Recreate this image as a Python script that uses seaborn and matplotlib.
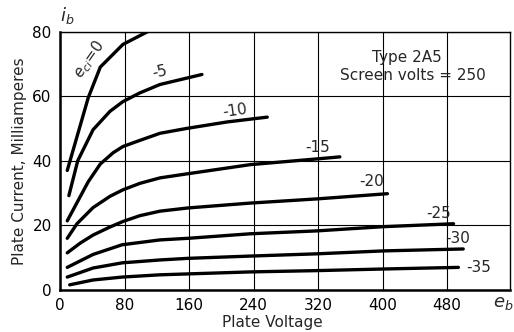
import matplotlib
matplotlib.use("Agg")
import matplotlib.pyplot as plt
import seaborn as sns
import pandas as pd

# grid bias (volts) for each curve
grid_bias = [0, -5, -10, -15, -20, -25, -30, -35]

# plate voltage (V) / plate current (mA)
v_0 = [9, 35, 50, 78, 109]
i_0 = [37, 59.5, 69, 76, 80]
v_5 = [11, 22, 41, 62, 78, 99, 124, 176]
i_5 = [29.2, 40, 49.6, 55.3, 58.3, 61, 63.6, 66.7]
v_10 = [9, 21, 35, 50, 66, 78, 99, 124, 157, 207, 257]
i_10 = [21.4, 27, 33.5, 39, 42.5, 44.4, 46.3, 48.5, 50, 52, 53.5]
v_15 = [9, 21, 41, 62, 78, 99, 124, 159, 236, 320, 347]
i_15 = [16, 20.5, 25.5, 29, 31, 33, 34.7, 36, 38.8, 40.6, 41.2]
v_20 = [9, 25, 41, 62, 78, 99, 124, 159, 236, 319, 406]
i_20 = [11.5, 14.5, 17, 19.5, 21.2, 23, 24.4, 25.4, 26.9, 28.2, 29.8]
v_25 = [9, 41, 77, 124, 159, 236, 319, 401, 488]
i_25 = [7, 11, 14, 15.5, 16, 17.4, 18.3, 19.6, 20.5]
v_30 = [9, 41, 77, 124, 159, 236, 319, 401, 500]
i_30 = [4, 6.8, 8.4, 9.3, 9.8, 10.5, 11.2, 12.1, 12.7]
v_35 = [12, 41, 77, 124, 236, 319, 401, 494]
i_35 = [1.6, 3.1, 4, 4.7, 5.6, 6, 6.5, 7]

curve_v = [v_0, v_5, v_10, v_15, v_20, v_25, v_30, v_35]
curve_i = [i_0, i_5, i_10, i_15, i_20, i_25, i_30, i_35]

curve_labels = ["$e_{ci}$=0", "-5", "-10", "-15", "-20", "-25", "-30", "-35"]
label_v = [36, 124, 217, 320, 387, 470, 493, 519]
label_i = [71.3, 67.5, 55.5, 44, 33.5, 23.6, 15.8, 7.1]
label_rot = [55, 12, 8, 0, 0, 0, 0, 0]

x_ticks = [0, 80, 160, 240, 320, 400, 480]
y_ticks = [0, 20, 40, 60, 80]

rows = []
for b, vs, cs in zip(grid_bias, curve_v, curve_i):
    for v, c in zip(vs, cs):
        rows.append({"bias": b, "V": v, "I": c})
df = pd.DataFrame(rows)

sns.set_style("white")
plt.rcParams["font.family"] = ["DejaVu Sans"]

fig = plt.figure(figsize=(5.14, 3.32), dpi=100)
ax = fig.add_axes([60 / 514, 1 - 290 / 332, 450 / 514, 258.5 / 332])

sns.lineplot(data=df, x="V", y="I", units="bias", estimator=None, sort=False,
             color="black", linewidth=2.4, ax=ax, legend=False)

ax.set_xlim(0, 558)
ax.set_ylim(0, 80)
ax.set_xticks(x_ticks)
ax.set_yticks(y_ticks)
ax.grid(True, color="black", linewidth=0.8)
ax.set_axisbelow(True)
for s in ax.spines.values():
    s.set_color("black")
    s.set_linewidth(1.0)
ax.spines["left"].set_linewidth(1.8)
ax.spines["bottom"].set_linewidth(1.8)
ax.tick_params(length=0, labelsize=11, colors="black")
ax.tick_params(axis="x", pad=6)
ax.tick_params(axis="y", pad=6)

ax.set_xlabel("")
ax.set_ylabel("Plate Current, Milliamperes", fontsize=11, labelpad=4)
fig.text(272 / 514, 1 - 323 / 332, "Plate Voltage", fontsize=11,
         ha="center", va="center")

for t, v, c, r in zip(curve_labels, label_v, label_i, label_rot):
    ax.text(v, c, t, fontsize=11, rotation=r, ha="center", va="center",
            rotation_mode="anchor")

ax.text(430, 72, "Type 2A5", fontsize=11, ha="center", va="center")
ax.text(438, 66.4, "Screen volts = 250", fontsize=11, ha="center", va="center")

fig.text(67 / 514, 1 - 16 / 332, "$i_b$", fontsize=13, ha="center", va="center")
fig.text(503 / 514, 1 - 303 / 332, "$e_b$", fontsize=13, ha="center", va="center")

fig.savefig("out.png", dpi=100)
